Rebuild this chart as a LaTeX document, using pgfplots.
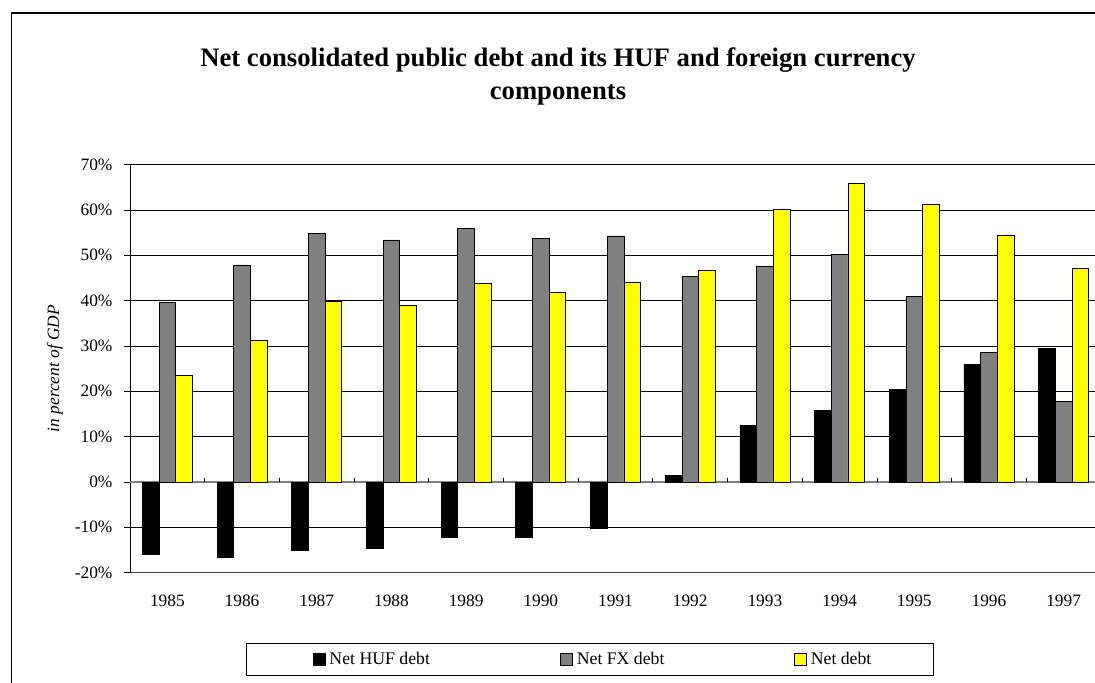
\documentclass[border=0pt]{standalone}
\usepackage{pgfplots}
\usepackage{pgfplotstable}
\pgfplotsset{compat=1.18}
\usepackage{fontspec}
\setmainfont{Liberation Serif}
\definecolor{fxgray}{HTML}{808080}
\definecolor{netyellow}{HTML}{FFFF00}
\definecolor{zerogray}{HTML}{808080}
\definecolor{bordergray}{HTML}{404040}

\pgfplotstableread{
x huf fx net
0 -16.0 39.6 23.5
1 -16.6 47.9 31.2
2 -15.0 54.8 39.8
3 -14.6 53.4 38.9
4 -12.1 56.0 43.9
5 -12.1 53.8 41.8
6 -10.2 54.3 44.0
7 1.4 45.4 46.8
8 12.5 47.6 60.2
9 15.8 50.2 65.9
10 20.4 40.9 61.2
11 25.9 28.5 54.4
12 29.4 17.8 47.2
}\debtdata

\begin{document}
\begin{tikzpicture}
\path[use as bounding box] (0,0) rectangle (821.25pt,511.5pt);
\clip (0,0) rectangle (821.25pt,511.5pt);
\draw[line width=1.1pt] (8.75pt,-10pt) -- (8.75pt,501.75pt) -- (840pt,501.75pt);
\node[font=\bfseries\fontsize{20}{24}\selectfont, anchor=base, inner sep=0pt] at (418.5pt,461.5pt) {Net consolidated public debt and its HUF and foreign currency};
\node[font=\bfseries\fontsize{20}{24}\selectfont, anchor=base, inner sep=0pt] at (418.5pt,436.5pt) {components};
\begin{axis}[
  at={(97.5pt,82pt)}, anchor=south west,
  scale only axis, width=728.25pt, height=306pt,
  ybar=0pt, bar width=12.5pt,
  xmin=-0.5, xmax=12.5, ymin=-20, ymax=70,
  enlarge x limits=false, enlarge y limits=false,
  xtick={0,1,2,3,4,5,6,7,8,9,10,11,12},
  xticklabels={1985,1986,1987,1988,1989,1990,1991,1992,1993,1994,1995,1996,1997},
  xtick style={draw=none},
  ytick={-20,-10,0,10,20,30,40,50,60,70},
  yticklabels={-20\%,-10\%,0\%,10\%,20\%,30\%,40\%,50\%,60\%,70\%},
  axis x line*=bottom, axis y line*=left,
  x axis line style={draw=bordergray, line width=1.1pt},
  y axis line style={draw=black, line width=0.75pt},
  ytick style={draw=black, line width=0.75pt},
  tick align=outside, major tick length=4.3pt,
  ymajorgrids, grid style={black, line width=0.6pt},
  tick label style={font=\fontsize{13}{15}\selectfont, inner sep=0pt},
  xticklabel style={yshift=-12.4pt},
  yticklabel style={xshift=-8.7pt},
  ylabel={in percent of GDP},
  ylabel style={at={(axis description cs:-0.0773,0.5)}, anchor=center, font=\itshape\fontsize{13}{15}\selectfont},
  legend columns=3,
  legend style={at={(axis description cs:0.4737,-0.2123)}, anchor=center, draw=black, line width=0.6pt,
    inner xsep=50pt, inner ysep=6.8pt, column sep=0pt, nodes={inner sep=0pt, anchor=west},
    font=\fontsize{13.3}{15}\selectfont},
  legend image code/.code={\draw[#1, line width=0.5pt] (0pt,-4.4pt) rectangle (8.8pt,4.4pt); \path (11.8pt,0pt);},
]
\draw[zerogray, line width=0.9pt] (axis cs:-0.5,0) -- (axis cs:12.5,0);
\pgfplotsinvokeforeach{0.5,1.5,2.5,3.5,4.5,5.5,6.5,7.5,8.5,9.5,10.5,11.5}{
  \draw[black, line width=0.6pt] (axis cs:#1,0) -- ++(0pt,3.25pt);
}
\addplot[fill=black, draw=black, line width=0.5pt] table[x=x,y=huf]{\debtdata};
\addplot[fill=fxgray, draw=black, line width=0.5pt] table[x=x,y=fx]{\debtdata};
\addplot[fill=netyellow, draw=black, line width=0.5pt] table[x=x,y=net]{\debtdata};
\legend{\makebox[173.2pt][l]{Net HUF debt},\makebox[163.2pt][l]{Net FX debt},\makebox[42pt][l]{Net debt}}
\end{axis}
\end{tikzpicture}
\end{document}
